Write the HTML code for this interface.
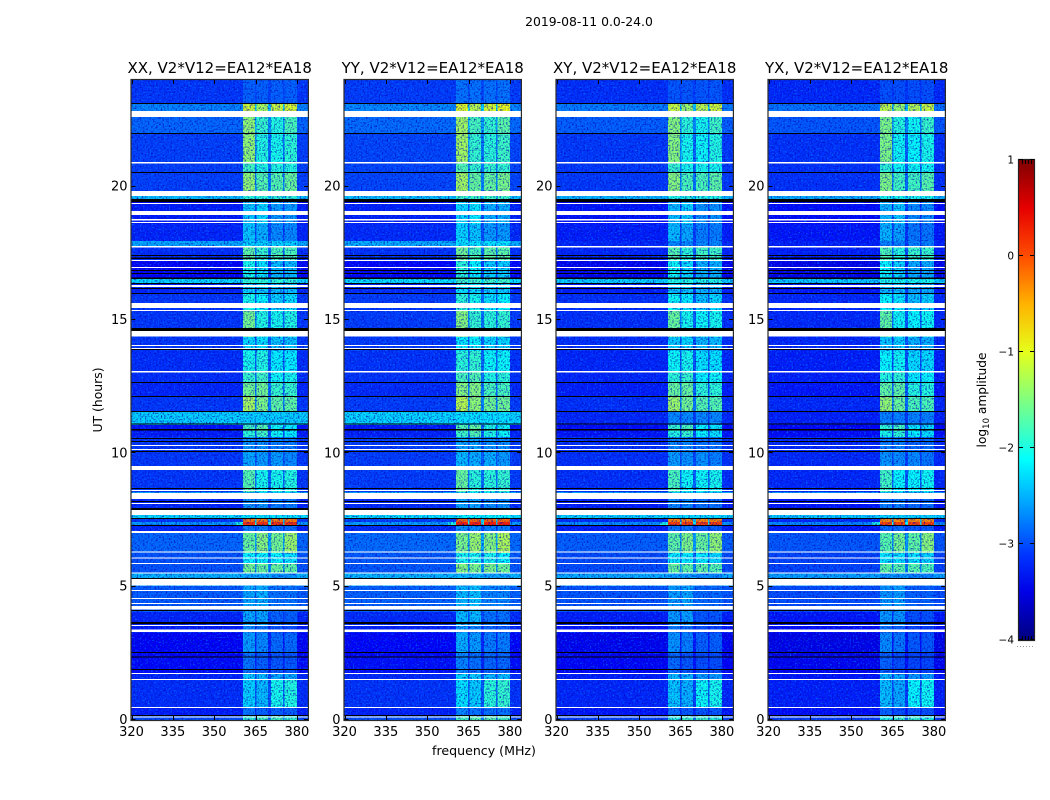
<!DOCTYPE html>
<html>
<head>
<meta charset="utf-8">
<title>2019-08-11 0.0-24.0</title>
<style>
html,body{margin:0;padding:0;background:#fff;}
body{width:1050px;height:800px;overflow:hidden;}
svg{display:block;font-family:"DejaVu Sans","Liberation Sans",sans-serif;}
</style>
</head>
<body>
<svg id="chart" xmlns="http://www.w3.org/2000/svg" width="1050" height="800" viewBox="0 0 1050 800">
  <defs>
    <filter id="grain-dark" x="0" y="0" width="100%" height="100%" color-interpolation-filters="sRGB">
      <feTurbulence type="fractalNoise" baseFrequency="0.62" numOctaves="1" seed="4"/>
      <feColorMatrix type="matrix" values="0 0 0 0 0  0 0 0 0 0.02  0 0 0 0 0.7  2.4 0 0 0 -1.1"/>
    </filter>
    <filter id="grain-light" x="0" y="0" width="100%" height="100%" color-interpolation-filters="sRGB">
      <feTurbulence type="fractalNoise" baseFrequency="0.62" numOctaves="1" seed="11"/>
      <feColorMatrix type="matrix" values="0 0 0 0 0  0 0 0 0 0.5  0 0 0 0 1  3 0 0 0 -1.6"/>
    </filter>
    <linearGradient id="colorbar-gradient" x1="0" y1="1" x2="0" y2="0"></linearGradient>
  </defs>
  <text x="589" y="26" font-size="12.4" text-anchor="middle" fill="#000">2019-08-11 0.0-24.0</text>
  <text transform="translate(102,400) rotate(-90)" font-size="12.4" text-anchor="middle" fill="#000">UT (hours)</text>
  <text x="484" y="755" font-size="12.6" text-anchor="middle" fill="#000">frequency (MHz)</text>
  <text transform="translate(986,400) rotate(-90)" font-size="12.2" text-anchor="middle" fill="#000">log<tspan font-size="8.5" dy="3">10</tspan><tspan dy="-3"> amplitude</tspan></text>
  <g id="panels"></g>
  <g id="colorbar"></g>
</svg>
<script>
// ---- chart data ----
const panelTitles = ["XX, V2*V12=EA12*EA18", "YY, V2*V12=EA12*EA18", "XY, V2*V12=EA12*EA18", "YX, V2*V12=EA12*EA18"];
const panelBackgroundOffsets = [-0.1, -0.07, -0.14, -0.18];
const panelBandOffsets = [0.18, 0.27, 0.13, 0.09];
const freqTicks = [320, 335, 350, 365, 380];
const utTicks = [0, 5, 10, 15, 20];
const colorbarTicks = [1, 0, -1, -2, -3, -4];
const colorbarTickLabels = ["1", "0", "\u22121", "\u22122", "\u22123", "\u22124"];
const colorbarLevels = [-4, -3.5, -3.12, -3, -2.5, -2.12, -2, -1.5, -1.12, -1, -0.5, -0.12, 0, 0.5, 0.75, 1];

// spectral windows, MHz
const bandEdgesMHz = [[360.4, 364.8], [365.4, 369.6], [370.6, 375.0], [375.6, 380.0]];

// row boundaries, UT hours (one more entry than rows)
const rowEdgesUT = [0, 0.15, 0.45, 1.5, 1.72, 2.36, 2.55, 3.26, 3.52, 4.05, 5.02, 5.5, 5.85, 6.26, 7.01, 7.28, 7.42, 7.54, 7.58, 7.88, 8.29, 8.55, 9.38, 10.05, 10.61, 10.84, 11.06, 11.55, 12.11, 12.64, 13.05, 13.84, 14.36, 15.34, 15.98, 16.39, 16.54, 17.21, 17.74, 17.96, 18.6, 19.39, 19.54, 19.65, 20.51, 20.89, 21.98, 22.61, 23.1, 24];

// log10 amplitude outside the spectral windows, per row
const backgroundLevels = [-2.9, -3.15, -3.05, -3.1, -3.25, -3.3, -3.3, -3.15, -3.1, -2.8, -2.35, -2.85, -2.85, -2.75, -3.1, -2.5, -3, -3.2, -2.15, -3.1, -2.4, -3, -3, -3, -3.15, -3.2, -2.2, -3, -3.1, -3.05, -3.05, -3, -3, -3, -3.1, -2.15, -3.3, -3.05, -2.4, -3.1, -3.15, -3.4, -2.3, -2.95, -2.95, -2.95, -2.75, -2.6, -3];

// log10 amplitude in each of the four spectral windows, per row
const band1Levels = [-2.1, -2.95, -2.5, -2.55, -2.95, -2.95, -2.75, -2.85, -2.7, -2.7, -2.7, -1.75, -2.3, -1.8, -2.9, -0.05, -0.4, -3.2, -2.4, -2.8, -2.5, -1.9, -2.7, -2.8, -2.1, -2, -2.5, -1.5, -1.75, -2.05, -2.2, -2.45, -1.75, -2.2, -2.5, -2.1, -2.2, -1.85, -2.5, -2.55, -2.55, -2.6, -2.1, -1.6, -2, -1.6, -1.6, -1.3, -3.05];
const band2Levels = [-2, -3.05, -2.6, -2.6, -3.05, -3.05, -2.85, -2.95, -2.7, -2.65, -2.7, -1.8, -2.3, -1.65, -2.9, -0.05, -0.4, -3.2, -2.4, -2.8, -2.5, -2.2, -2.75, -2.8, -2, -1.9, -2.5, -1.7, -1.75, -2, -2.15, -2.4, -2.15, -2.3, -2.5, -2.1, -2.4, -2.05, -2.5, -2.65, -2.45, -2.6, -2.1, -1.9, -2.15, -2.15, -2.05, -1.5, -3.05];
const band3Levels = [-2, -3.05, -2.2, -2.7, -3.1, -3.1, -3, -3.1, -3.05, -2.95, -2.8, -1.8, -2.3, -1.75, -3, -0.05, -0.4, -3.2, -2.4, -2.9, -2.5, -2.2, -2.75, -2.9, -2.25, -2.25, -2.5, -1.85, -2.05, -2.25, -2.35, -2.55, -2.2, -2.5, -2.6, -2.1, -2.6, -1.95, -2.5, -2.85, -2.75, -2.7, -2.1, -1.9, -2.15, -2.2, -2.15, -1.35, -3.05];
const band4Levels = [-2.1, -3.05, -2.15, -2.7, -3.1, -3.1, -3, -3.15, -3.05, -2.95, -2.8, -1.85, -2.4, -1.55, -3, -0.05, -0.4, -3.2, -2.4, -2.9, -2.5, -2.15, -2.85, -2.9, -2.35, -2.35, -2.5, -1.85, -2.05, -2.2, -2.35, -2.55, -2.15, -2.4, -2.6, -2.1, -2.6, -1.95, -2.5, -2.85, -2.75, -2.7, -2.1, -1.8, -2.15, -2.1, -1.95, -1.25, -3.05];

// rows that are bright only in the parallel hands (XX, YY), and their cross-hand level
const crossQuietUT = [11.3, 17.85];
const crossQuietLevel = -3.05;

// low-level skirt just below the first window during the 7.4 h burst
const skirtUT = 7.35;
const skirtEdgesMHz = [357.5, 360.4];
const skirtLevel = -2;

// flagged (blank) time ranges, UT hours
const flaggedStart = [0.09, 0.45, 1.5, 1.73, 3.3, 3.52, 4.14, 4.35, 4.54, 4.84, 5.04, 5.49, 5.85, 6.06, 6.28, 7.01, 7.69, 8.1, 8.29, 8.59, 9.38, 10.13, 10.28, 13.03, 13.91, 14.03, 14.38, 15.34, 15.45, 16.24, 16.95, 17.21, 17.72, 18.64, 18.73, 18.94, 19.35, 19.65, 20.87, 22.61];
const flaggedEnd = [0.13, 0.49, 1.54, 1.76, 3.39, 3.56, 4.28, 4.39, 4.58, 4.88, 5.29, 5.53, 5.89, 6.09, 6.32, 7.09, 7.88, 8.14, 8.51, 8.63, 9.53, 10.16, 10.31, 13.09, 13.95, 14.06, 14.59, 15.38, 15.64, 16.31, 16.99, 17.25, 17.78, 18.68, 18.79, 19.09, 19.39, 19.84, 20.93, 22.84];

// zero-amplitude (black) time ranges, UT hours
const zeroStart = [0.15, 1.88, 2.34, 2.51, 3.6, 4.09, 5.29, 7.28, 7.54, 7.88, 8.18, 8.66, 10.05, 10.43, 10.54, 10.86, 11.08, 11.55, 12.11, 12.64, 13.87, 14.59, 15.98, 16.16, 16.35, 16.54, 16.72, 16.84, 17.29, 17.4, 19.43, 20.51, 21.98, 23.1];
const zeroEnd = [0.19, 1.91, 2.38, 2.55, 3.68, 4.13, 5.33, 7.31, 7.58, 7.95, 8.21, 8.7, 10.09, 10.46, 10.57, 10.91, 11.12, 11.59, 12.15, 12.68, 13.91, 14.7, 16.01, 16.2, 16.39, 16.59, 16.76, 16.87, 17.34, 17.44, 19.54, 20.55, 22.01, 23.14];

// ---- layout and scales ----
const SVG_NS = "http://www.w3.org/2000/svg";
const panelLefts = [131.5, 344.5, 556.5, 768.5];
const panelWidth = 176.4;
const plotTop = 80;
const plotBottom = 720;
const freqMin = 320, freqMax = 384, utMax = 24;
const barLeft = 1019, barRight = 1034, barTop = 160, barBottom = 640, levelMin = -4, levelMax = 1;

function xScale(panel, mhz) { return panelLefts[panel] + (mhz - freqMin) / (freqMax - freqMin) * panelWidth; }
function yScale(ut) { return plotBottom - ut / utMax * (plotBottom - plotTop); }
function barScale(level) { return barBottom - (level - levelMin) / (levelMax - levelMin) * (barBottom - barTop); }

function jet(level) {
  const v = Math.max(0, Math.min(1, (level - levelMin) / (levelMax - levelMin)));
  const channel = (c) => Math.round(255 * Math.max(0, Math.min(1, Math.min(4 * v - c + 1.5, -4 * v + c + 1.5))));
  return "rgb(" + channel(3) + "," + channel(2) + "," + channel(1) + ")";
}

function make(tag, parent) {
  const el = document.createElementNS(SVG_NS, tag);
  parent.appendChild(el);
  return el;
}

function setBox(el, x, y, w, h, fill) {
  el.setAttribute("x", x);
  el.setAttribute("y", y);
  el.setAttribute("width", w);
  el.setAttribute("height", h);
  el.setAttribute("fill", fill);
  el.setAttribute("shape-rendering", "crispEdges");
}

function setLine(el, x1, y1, x2, y2) {
  el.setAttribute("x1", x1);
  el.setAttribute("y1", y1);
  el.setAttribute("x2", x2);
  el.setAttribute("y2", y2);
  el.setAttribute("stroke", "#000");
  el.setAttribute("stroke-width", "1");
  el.setAttribute("shape-rendering", "crispEdges");
}

const panelsRoot = document.getElementById("panels");
const bandLevelSets = [band1Levels, band2Levels, band3Levels, band4Levels];

panelTitles.forEach(function (title, p) {
  const g = make("g", panelsRoot);
  
  

  const x0 = panelLefts[p];
  const x1 = x0 + panelWidth;
  const isCross = p >= 2;

  function rowIsQuiet(r) {
    return isCross && crossQuietUT.some(function (u) { return u >= rowEdgesUT[r] && u < rowEdgesUT[r + 1]; });
  }
  function rowBackground(r) {
    return (rowIsQuiet(r) ? crossQuietLevel : backgroundLevels[r]) + panelBackgroundOffsets[p];
  }
  function rowBand(r, b) {
    const raw = bandLevelSets[b][r];
    return (rowIsQuiet(r) ? Math.min(raw, -2.8) : raw) + panelBandOffsets[p];
  }

  // background and the gaps between windows
  backgroundLevels.forEach(function (unused, r) {
    const yTop = yScale(rowEdgesUT[r + 1]);
    const rowH = yScale(rowEdgesUT[r]) - yTop;
    const bg = rowBackground(r);

    const bgCell = make("rect", g);
    setBox(bgCell, x0, yTop, panelWidth, rowH, jet(bg));
    
    

    for (let b = 0; b < bandEdgesMHz.length - 1; b++) {
      const gapStart = xScale(p, bandEdgesMHz[b][1]);
      const gapEnd = xScale(p, bandEdgesMHz[b + 1][0]);
      const gap = make("rect", g);
      setBox(gap, gapStart, yTop, gapEnd - gapStart, rowH, jet(bg + 0.25 * (rowBand(r, b) - bg)));
      
      
    }

    if (skirtUT >= rowEdgesUT[r] && skirtUT < rowEdgesUT[r + 1]) {
      const skirt = make("rect", g);
      setBox(skirt, xScale(p, skirtEdgesMHz[0]), yTop, xScale(p, skirtEdgesMHz[1]) - xScale(p, skirtEdgesMHz[0]), rowH, jet(skirtLevel));
      
      
    }
  });

  // receiver-noise texture on the background (decorative, not data)
  const lightGrain = make("rect", g);
  setBox(lightGrain, x0, plotTop, panelWidth, plotBottom - plotTop, "#000");
  lightGrain.setAttribute("filter", "url(#grain-light)");
  
  

  // spectral windows
  backgroundLevels.forEach(function (unused, r) {
    const yTop = yScale(rowEdgesUT[r + 1]);
    const rowH = yScale(rowEdgesUT[r]) - yTop;
    bandEdgesMHz.forEach(function (edges, b) {
      const cell = make("rect", g);
      setBox(cell, xScale(p, edges[0]), yTop, xScale(p, edges[1]) - xScale(p, edges[0]), rowH, jet(rowBand(r, b)));
      
      
    });
  });

  const darkGrain = make("rect", g);
  setBox(darkGrain, x0, plotTop, panelWidth, plotBottom - plotTop, "#000");
  darkGrain.setAttribute("filter", "url(#grain-dark)");
  
  

  zeroStart.forEach(function (start, i) {
    const bar = make("rect", g);
    setBox(bar, x0, yScale(zeroEnd[i]), panelWidth, yScale(start) - yScale(zeroEnd[i]), "#000");
    
    
  });

  flaggedStart.forEach(function (start, i) {
    const bar = make("rect", g);
    setBox(bar, x0, yScale(flaggedEnd[i]), panelWidth, yScale(start) - yScale(flaggedEnd[i]), "#fff");
    
    
  });

  const frame = make("rect", g);
  frame.setAttribute("x", x0 - 0.5);
  frame.setAttribute("y", plotTop - 0.5);
  frame.setAttribute("width", panelWidth + 1);
  frame.setAttribute("height", plotBottom - plotTop + 1);
  frame.setAttribute("fill", "none");
  frame.setAttribute("stroke", "#2a2a2a");
  frame.setAttribute("stroke-width", "1.2");
  
  

  const titleText = make("text", g);
  titleText.setAttribute("x", x0 + panelWidth / 2);
  titleText.setAttribute("y", 73);
  titleText.setAttribute("font-size", "15");
  titleText.setAttribute("text-anchor", "middle");
  titleText.textContent = title;
  
  

  freqTicks.forEach(function (f) {
    const xt = Math.round(xScale(p, f)) + 0.5;
    const bottomTick = make("line", g);
    setLine(bottomTick, xt, plotBottom, xt, plotBottom - 4);
    
    
    const topTick = make("line", g);
    setLine(topTick, xt, plotTop, xt, plotTop + 4);
    
    
    const label = make("text", g);
    label.setAttribute("x", xScale(p, f));
    label.setAttribute("y", 736);
    label.setAttribute("font-size", "13");
    label.setAttribute("text-anchor", "middle");
    label.textContent = String(f);
    
    
  });

  utTicks.forEach(function (u) {
    const yt = Math.round(yScale(u)) - 0.5;
    const leftTick = make("line", g);
    setLine(leftTick, x0, yt, x0 + 4, yt);
    
    
    const rightTick = make("line", g);
    setLine(rightTick, x1, yt, x1 - 4, yt);
    
    
    const label = make("text", g);
    label.setAttribute("x", x0 - 4);
    label.setAttribute("y", yScale(u) + 4);
    label.setAttribute("font-size", "13");
    label.setAttribute("text-anchor", "end");
    label.textContent = String(u);
    
    
  });
});

// ---- colorbar ----
const gradient = document.getElementById("colorbar-gradient");
colorbarLevels.forEach(function (level) {
  const stop = make("stop", gradient);
  stop.setAttribute("offset", (level - levelMin) / (levelMax - levelMin));
  stop.setAttribute("stop-color", jet(level));
});

const barRoot = document.getElementById("colorbar");
const barFill = make("rect", barRoot);
setBox(barFill, barLeft, barTop, barRight - barLeft, barBottom - barTop, "url(#colorbar-gradient)");



const barFrame = make("rect", barRoot);
barFrame.setAttribute("x", barLeft - 0.5);
barFrame.setAttribute("y", barTop - 0.5);
barFrame.setAttribute("width", barRight - barLeft + 1);
barFrame.setAttribute("height", barBottom - barTop + 1);
barFrame.setAttribute("fill", "none");
barFrame.setAttribute("stroke", "#222");
barFrame.setAttribute("stroke-width", "1.2");



colorbarTicks.forEach(function (level, i) {
  const yt = Math.round(barScale(level)) - 0.5;
  const tickLeft = make("line", barRoot);
  setLine(tickLeft, barLeft, yt, barLeft + 4, yt);
  
  
  const tickRight = make("line", barRoot);
  setLine(tickRight, barRight, yt, barRight - 4, yt);
  
  
  const label = make("text", barRoot);
  label.setAttribute("x", barLeft - 5);
  label.setAttribute("y", barScale(level) + 3.5);
  label.setAttribute("font-size", "10.5");
  label.setAttribute("text-anchor", "end");
  label.textContent = colorbarTickLabels[i];
  
  
});

[barLeft + 3, barLeft + 6, barLeft + 9, barLeft + 12].forEach(function (xt) {
  const tickTop = make("line", barRoot);
  setLine(tickTop, xt + 0.5, barTop, xt + 0.5, barTop + 4);
  
  
  const tickBottom = make("line", barRoot);
  setLine(tickBottom, xt + 0.5, barBottom, xt + 0.5, barBottom - 4);
  
  
});

const dots = make("line", barRoot);
dots.setAttribute("x1", 1017);
dots.setAttribute("y1", 646.5);
dots.setAttribute("x2", 1035);
dots.setAttribute("y2", 646.5);
dots.setAttribute("stroke", "#999");
dots.setAttribute("stroke-width", "1");
dots.setAttribute("stroke-dasharray", "1 2");


</script>
</body>
</html>
